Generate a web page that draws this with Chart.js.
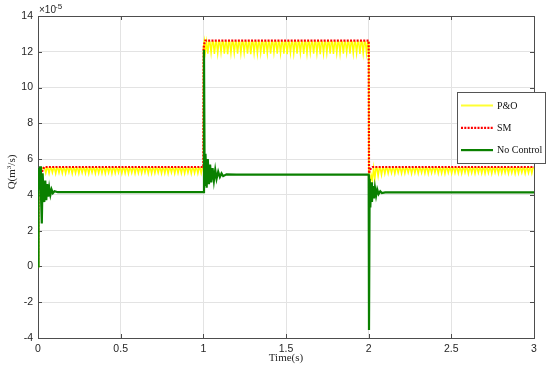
<!DOCTYPE html>
<html>
<head>
<meta charset="utf-8">
<script src="https://cdn.jsdelivr.net/npm/chart.js@4.4.0/dist/chart.umd.min.js"></script>
<style>
html,body{margin:0;padding:0;background:#fff;}
</style>
</head>
<body>
<canvas id="mycanvas" width="550" height="369"></canvas>
<script>
// axis ticks
var timeTicks = [0, 0.5, 1, 1.5, 2, 2.5, 3];
var qTicks = [-4, -2, 0, 2, 4, 6, 8, 10, 12, 14];

// No Control (x 1e-5 m^3/s)
var ncTime = [0,0.003,0.008,0.013,0.018,0.023,0.028,0.033,0.038,0.044,0.05,0.056,0.062,0.068,0.075,0.082,0.09,0.1,0.12,
	1.0,1.004,1.008,1.013,1.02,1.027,1.034,1.041,1.048,1.056,1.064,1.072,1.08,1.09,1.1,1.11,1.12,1.14,1.2,
	2.0,2.002,2.006,2.01,2.015,2.02,2.026,2.032,2.038,2.045,2.052,2.06,2.07,2.08,2.1,3.0];
var ncQ = [0,5.5,4.3,5.6,4.0,2.4,5.2,4.2,3.6,4.8,3.7,4.6,3.9,4.4,4.0,4.3,4.1,4.2,4.15,
	4.15,12.1,4.5,6.3,4.4,6.0,4.6,5.7,4.7,5.5,4.8,5.4,4.9,5.3,5.0,5.2,5.05,5.15,5.13,
	5.13,-3.55,4.9,3.3,4.7,3.6,4.5,3.8,4.4,3.95,4.3,4.05,4.2,4.1,4.14,4.14];

// SM
var smTime = [0,0.003,0.01,0.02,0.03,0.04,1.0,1.002,1.006,1.012,2.0,2.002,2.008,2.015,2.025,3.0];
var smQ = [0,5.0,5.35,5.15,5.45,5.56,5.56,12.2,12.45,12.62,12.62,5.2,5.4,5.5,5.56,5.56];

// P&O: start-up, jumps, then ripple (top level + each dip)
var poHeadTime = [0,0.004,0.01,0.02,0.03];
var poHeadQ = [0,4.8,5.3,5.4,5.5];
var poJump1Time = [1.0,1.002,1.006,1.012];
var poJump1Q = [5.5,12.3,12.6,12.0];
var poJump2Time = [2.0,2.002,2.008,2.015,2.022];
var poJump2Q = [12.55,4.9,4.6,5.1,4.8];
var poSegStart = [0.04, 1.02, 2.03];
var poSegEnd = [1.0, 2.0, 3.0];
var poTop = [5.5, 12.55, 5.5];
var poLow1 = [5.22,5.2,5.24,5.19,5.23,5.21,5.2,5.25,5.19,5.22,5.2,5.23,5.21,5.19,5.24,5.2,5.22,5.21,5.2,5.23,5.19,5.22,5.24,5.2,
	5.21,5.19,5.23,5.2,5.22,5.21,5.24,5.19,5.2,5.22,5.23,5.2,5.21,5.19,5.24,5.2,5.22,5.21,5.2,5.23,5.19,5.22,5.2,5.21];
var poLow2 = [11.9,11.95,11.88,11.92,11.97,11.9,11.86,11.93,11.95,11.89,11.92,11.96,11.9,11.87,11.94,11.91,11.95,11.88,11.92,11.9,
	11.96,11.89,11.93,11.9,11.87,11.95,11.92,11.9,11.94,11.88,11.91,11.96,11.9,11.93,11.87,11.92,11.95,11.9,11.88,11.94,
	11.91,11.9,11.96,11.89,11.92,11.94,11.88,11.91,11.93];
var poLow3 = [4.9,5.05,5.12,5.18,5.2,5.22,5.19,5.23,5.2,5.21,5.24,5.19,5.22,5.2,5.23,5.21,5.19,5.22,5.24,5.2,5.21,5.19,5.23,5.2,
	5.22,5.21,5.2,5.24,5.19,5.22,5.2,5.23,5.21,5.2,5.22,5.19,5.24,5.2,5.21,5.23,5.2,5.22,5.19,5.21,5.24,5.2,5.22,5.21];

function pairs(ts, qs) {
	var out = [];
	for (var i in ts) out.push({x: ts[i], y: qs[i]});
	return out;
}

function ripple(start, end, top, lows) {
	var p = (end - start) / lows.length;
	var out = [];
	for (var i = 0; i < lows.length; i++) {
		var t = start + i * p;
		out.push({x: t, y: top}, {x: t + 0.35 * p, y: lows[i]}, {x: t + 0.7 * p, y: top});
	}
	out.push({x: end, y: top});
	return out;
}

var poData = [].concat(
	pairs(poHeadTime, poHeadQ),
	ripple(poSegStart[0], poSegEnd[0], poTop[0], poLow1),
	pairs(poJump1Time, poJump1Q),
	ripple(poSegStart[1], poSegEnd[1], poTop[1], poLow2),
	pairs(poJump2Time, poJump2Q),
	ripple(poSegStart[2], poSegEnd[2], poTop[2], poLow3)
);

var legendItems = [
	{label: 'P&O', color: '#ffff33', width: 2, dash: []},
	{label: 'SM', color: '#ff0000', width: 2.2, dash: [2, 1.3]},
	{label: 'No Control', color: '#0a8000', width: 2.2, dash: []}
];

var axisColor = '#4d4d4d';

var matlabBox = {
	id: 'matlabBox',
	beforeDatasetsDraw: function(chart) {
		var a = chart.chartArea, ctx = chart.ctx;
		var xs = chart.scales.x, ys = chart.scales.y;
		ctx.save();
		ctx.strokeStyle = axisColor;
		ctx.lineWidth = 1;
		ctx.beginPath();
		timeTicks.forEach(function(t) {
			var px = Math.round(xs.getPixelForValue(t)) + 0.5;
			ctx.moveTo(px, a.bottom); ctx.lineTo(px, a.bottom - 4);
			ctx.moveTo(px, a.top); ctx.lineTo(px, a.top + 4);
		});
		qTicks.forEach(function(q) {
			var py = Math.round(ys.getPixelForValue(q)) + 0.5;
			ctx.moveTo(a.left, py); ctx.lineTo(a.left + 4, py);
			ctx.moveTo(a.right, py); ctx.lineTo(a.right - 4, py);
		});
		ctx.stroke();
		ctx.strokeRect(Math.round(a.left) + 0.5, Math.round(a.top) + 0.5, Math.round(a.right - a.left), Math.round(a.bottom - a.top));
		ctx.restore();
	},
	afterDraw: function(chart) {
		var a = chart.chartArea, ctx = chart.ctx;
		ctx.save();
		ctx.fillStyle = '#262626';
		// exponent
		ctx.font = '10px "Liberation Sans", Arial, sans-serif';
		ctx.textBaseline = 'alphabetic';
		ctx.textAlign = 'left';
		ctx.fillText('\u00d710', a.left + 1, 13);
		ctx.font = '8px "Liberation Sans", Arial, sans-serif';
		ctx.fillText('-5', a.left + 17, 8.5);
		// x title
		ctx.font = '11px "Liberation Serif", "Times New Roman", serif';
		ctx.textAlign = 'center';
		ctx.fillText('Time(s)', (a.left + a.right) / 2, 361);
		// y title
		ctx.translate(15, 172);
		ctx.rotate(-Math.PI / 2);
		ctx.textAlign = 'left';
		var w1 = ctx.measureText('Q(m').width;
		ctx.font = '7px "Liberation Serif", "Times New Roman", serif';
		var w2 = ctx.measureText('3').width;
		ctx.font = '11px "Liberation Serif", "Times New Roman", serif';
		var w3 = ctx.measureText('/s)').width;
		var x0 = -(w1 + w2 + w3) / 2;
		ctx.fillText('Q(m', x0, 0);
		ctx.fillText('/s)', x0 + w1 + w2, 0);
		ctx.font = '7px "Liberation Serif", "Times New Roman", serif';
		ctx.fillText('3', x0 + w1, -4);
		ctx.restore();

		// legend box
		ctx.save();
		var lx = 457, ly = 92, lw = 88, lh = 71;
		ctx.fillStyle = '#fff';
		ctx.fillRect(lx, ly, lw, lh);
		ctx.strokeStyle = '#555';
		ctx.lineWidth = 1;
		ctx.strokeRect(lx + 0.5, ly + 0.5, lw, lh);
		ctx.font = '10px "Liberation Serif", "Times New Roman", serif';
		ctx.textBaseline = 'middle';
		ctx.textAlign = 'left';
		legendItems.forEach(function(it, i) {
			var yy = 105.5 + i * 22.3;
			ctx.strokeStyle = it.color;
			ctx.lineWidth = it.width;
			ctx.setLineDash(it.dash);
			ctx.beginPath();
			ctx.moveTo(461, yy); ctx.lineTo(493, yy);
			ctx.stroke();
			ctx.setLineDash([]);
			ctx.fillStyle = '#111';
			ctx.fillText(it.label, 497, yy + 0.5);
		});
		ctx.restore();
	}
};

var ctx = document.getElementById('mycanvas');

var lineChart = new Chart(ctx, {
	type: 'line',
	data: {
		datasets: [
			{
				label: 'P&O',
				data: poData,
				borderColor: '#ffff00',
				borderWidth: 1.5,
				pointRadius: 0,
				tension: 0,
				order: 3
			},
			{
				label: 'SM',
				data: pairs(smTime, smQ),
				borderColor: '#ff0000',
				borderWidth: 2.2,
				borderDash: [2, 1.3],
				pointRadius: 0,
				tension: 0,
				order: 2
			},
			{
				label: 'No Control',
				data: pairs(ncTime, ncQ),
				borderColor: '#0a8000',
				borderWidth: 2.2,
				pointRadius: 0,
				tension: 0,
				order: 1
			}
		]
	},
	options: {
		responsive: false,
		animation: false,
		parsing: false,
		layout: {padding: {left: 0, top: 16, right: 16, bottom: 0}},
		plugins: {legend: {display: false}, tooltip: {enabled: false}},
		scales: {
			x: {
				type: 'linear',
				min: 0,
				max: 3,
				afterBuildTicks: function(s) { s.ticks = timeTicks.map(function(v) { return {value: v}; }); },
				afterFit: function(s) { s.height = 31; },
				grid: {color: '#e3e3e3', drawTicks: false},
				border: {display: false},
				ticks: {
					padding: 5,
					maxRotation: 0,
					color: '#262626',
					font: {family: '"Liberation Sans", Arial, sans-serif', size: 10.5},
					callback: function(v) { return String(v); }
				}
			},
			y: {
				min: -4,
				max: 14,
				afterBuildTicks: function(s) { s.ticks = qTicks.map(function(v) { return {value: v}; }); },
				afterFit: function(s) { s.width = 38; },
				grid: {color: '#e3e3e3', drawTicks: false},
				border: {display: false},
				ticks: {
					padding: 5,
					color: '#262626',
					font: {family: '"Liberation Sans", Arial, sans-serif', size: 10.5},
					callback: function(v) { return String(v); }
				}
			}
		}
	},
	plugins: [matlabBox]
});
</script>
</body>
</html>
